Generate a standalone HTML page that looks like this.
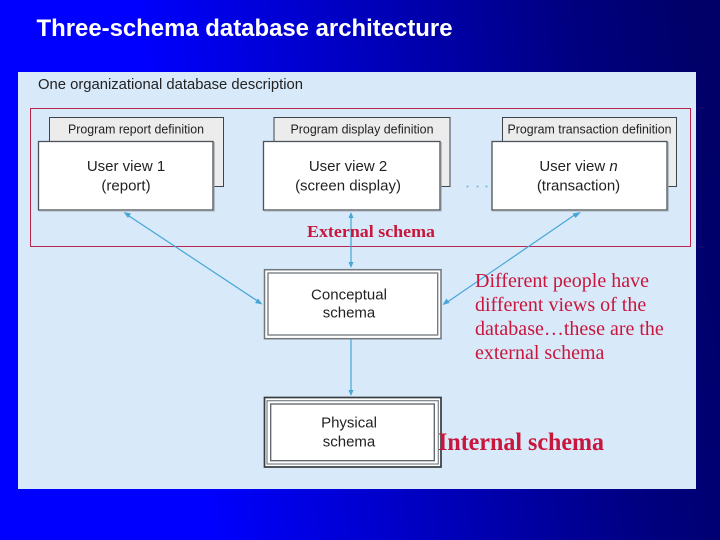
<!DOCTYPE html>
<html>
<head>
<meta charset="utf-8">
<style>
html,body{margin:0;padding:0;background:#0000c0}
body{width:720px;height:540px;overflow:hidden}
svg{display:block}
.sans{font-family:"Liberation Sans",sans-serif;fill:#222}
.serif{font-family:"Liberation Serif",serif;fill:#c8143c}
</style>
</head>
<body>
<svg width="720" height="540" viewBox="0 0 720 540" xmlns="http://www.w3.org/2000/svg">
<defs>
<linearGradient id="bg" gradientUnits="userSpaceOnUse" x1="170" y1="270" x2="720" y2="188">
<stop offset="0" stop-color="#0000ff"/>
<stop offset="0.78" stop-color="#000080"/>
<stop offset="1" stop-color="#000068"/>
</linearGradient>
<filter id="soft" filterUnits="userSpaceOnUse" x="0" y="0" width="720" height="540"><feGaussianBlur stdDeviation="0.3"/></filter>
</defs>
<rect width="720" height="540" fill="url(#bg)"/>
<g filter="url(#soft)">
<text x="36.500" y="36" font-family="'Liberation Sans',sans-serif" font-weight="bold" font-size="24" fill="#fff" textLength="416" lengthAdjust="spacingAndGlyphs">Three-schema database architecture</text>

<rect x="18" y="72" width="678" height="417" fill="#d8e9f9"/>
<text class="sans" x="38" y="89" font-size="15" textLength="265" lengthAdjust="spacingAndGlyphs">One organizational database description</text>

<rect x="30.500" y="108.500" width="660" height="138" fill="none" stroke="#b8264c" stroke-width="1"/>

<g stroke="#3c444c" stroke-width="1" fill="#ececec">
<rect x="49.500" y="117.500" width="174" height="69"/>
<rect x="274" y="117.500" width="176" height="69"/>
<rect x="502.500" y="117.500" width="174" height="69"/>
</g>
<g fill="#fff" stroke="#4c5258" stroke-width="1.300">
<rect x="38.500" y="141.500" width="174.500" height="68.500"/>
<rect x="263.500" y="141.500" width="176.500" height="68.500"/>
<rect x="492" y="141.500" width="175" height="68.500"/>
</g>
<g fill="none" stroke="#9aa0a6" stroke-width="1.200">
<path d="M39 210.800H214V142"/>
<path d="M264 210.800H441V142"/>
<path d="M492 210.800H668V142"/>
</g>

<g class="sans" font-size="13" text-anchor="middle">
<text x="136" y="133.500" textLength="136" lengthAdjust="spacingAndGlyphs">Program report definition</text>
<text x="362" y="133.500" textLength="143" lengthAdjust="spacingAndGlyphs">Program display definition</text>
<text x="589.500" y="133.500" textLength="164" lengthAdjust="spacingAndGlyphs">Program transaction definition</text>
</g>

<g fill="#6fb5dc">
<circle cx="467.500" cy="186.500" r="1"/><circle cx="477.500" cy="186.500" r="1"/><circle cx="486.500" cy="186.500" r="1"/>
</g>

<rect x="264.500" y="269.700" width="176.500" height="69" fill="#fff" stroke="#70767c" stroke-width="1.500"/>
<rect x="268" y="273" width="169.700" height="62" fill="none" stroke="#70767c" stroke-width="1.300"/>

<rect x="264.500" y="397.500" width="176.500" height="69.500" fill="#fff" stroke="#343a40" stroke-width="1.700"/>
<rect x="267" y="400.700" width="171.300" height="63.300" fill="none" stroke="#7a8086" stroke-width="1.200"/>
<rect x="270.700" y="404" width="163.600" height="56.700" fill="none" stroke="#5a6066" stroke-width="1.300"/>

<g stroke="#46a6d8" stroke-width="1.200" fill="none">
<path d="M126 214L259 302"/>
<path d="M351 216V265"/>
<path d="M576 214L446 303"/>
<path d="M351 339V394"/>
</g>
<g fill="#46a6d8">
<path d="M123.500 212L131 213.500L128 218Z"/>
<path d="M262.500 304.500L255 303L258 298.500Z"/>
<path d="M351 212L353.500 218H348.500Z"/>
<path d="M351 268L348.500 262H353.500Z"/>
<path d="M581 212L575.500 218L572.500 213.500Z"/>
<path d="M442.500 305L446.500 298.500L449.500 303Z"/>
<path d="M351 396L348.500 390H353.500Z"/>
</g>

<g class="sans" font-size="15" text-anchor="middle">
<text x="126" y="171">User view 1</text>
<text x="126" y="190.500">(report)</text>
<text x="348" y="171">User view 2</text>
<text x="348" y="190.500">(screen display)</text>
<text x="578.500" y="171">User view <tspan font-style="italic">n</tspan></text>
<text x="578.500" y="190.500">(transaction)</text>
<text x="349" y="299.300">Conceptual</text>
<text x="349" y="317.700">schema</text>
<text x="349" y="427.700">Physical</text>
<text x="349" y="446.500">schema</text>
</g>

<g class="serif">
<text x="307" y="237" font-size="17" font-weight="bold" textLength="128" lengthAdjust="spacingAndGlyphs">External schema</text>
<text x="475" y="287" font-size="20">Different people have</text>
<text x="475" y="311" font-size="20">different views of the</text>
<text x="475" y="335" font-size="20">database…these are the</text>
<text x="475" y="359" font-size="20">external schema</text>
<text x="438" y="450" font-size="25" font-weight="bold" textLength="166" lengthAdjust="spacingAndGlyphs">Internal schema</text>
</g>
</g>
</svg>
</body>
</html>
